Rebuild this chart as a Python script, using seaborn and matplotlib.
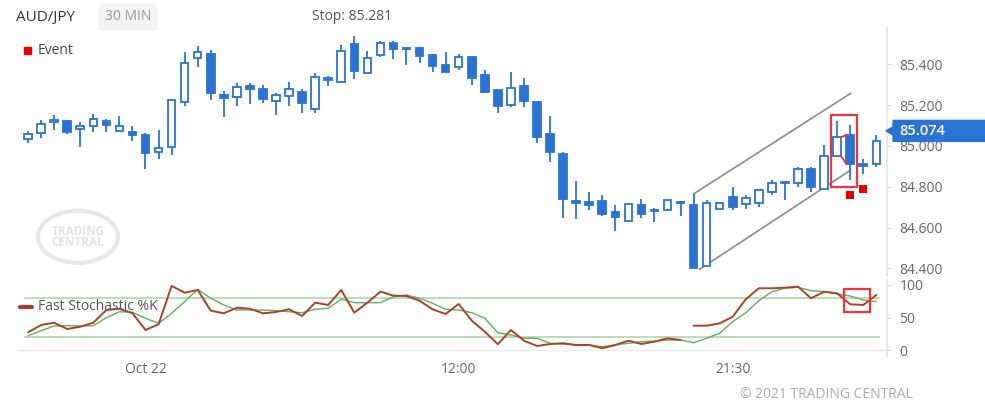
import matplotlib
matplotlib.use('Agg')
import matplotlib.pyplot as plt
import matplotlib.patches as mpatches
import matplotlib.transforms as mtransforms
import numpy as np
import pandas as pd
import seaborn as sns

sns.set_theme(style='white')
plt.rcParams['font.family'] = ['Open Sans', 'DejaVu Sans']

# AUD/JPY 30 min candles
opens = [85.033, 85.062, 85.116, 85.124, 85.085, 85.098, 85.124, 85.075, 85.067, 85.054,
         84.969, 84.997, 85.214, 85.430, 85.451, 85.250, 85.240, 85.296, 85.281, 85.222,
         85.247, 85.266, 85.181, 85.335, 85.315, 85.500, 85.356, 85.445, 85.506, 85.480,
         85.482, 85.445, 85.397, 85.386, 85.435, 85.348, 85.275, 85.201, 85.296, 85.217,
         85.057, 84.959, 84.730, 84.724, 84.729, 84.676, 84.631, 84.712, 84.688, 84.685,
         84.727, 84.709, 84.413, 84.690, 84.751, 84.714, 84.719, 84.776, 84.825, 84.820,
         84.887, 84.788, 84.952, 85.054, 84.910, 84.912]
highs = [85.071, 85.127, 85.150, 85.127, 85.116, 85.157, 85.132, 85.146, 85.098, 85.065,
         85.078, 85.225, 85.462, 85.490, 85.471, 85.270, 85.307, 85.307, 85.299, 85.258,
         85.312, 85.278, 85.359, 85.345, 85.495, 85.539, 85.466, 85.515, 85.515, 85.480,
         85.487, 85.445, 85.459, 85.450, 85.443, 85.373, 85.275, 85.361, 85.335, 85.217,
         85.149, 84.972, 84.828, 84.776, 84.760, 84.711, 84.717, 84.739, 84.698, 84.734,
         84.730, 84.765, 84.735, 84.719, 84.798, 84.760, 84.784, 84.833, 84.825, 84.899,
         84.896, 85.005, 85.123, 85.103, 84.935, 85.054]
lows = [85.016, 85.038, 85.078, 85.057, 84.997, 85.067, 85.067, 85.075, 85.026, 84.887,
        84.936, 84.956, 85.198, 85.389, 85.225, 85.141, 85.198, 85.206, 85.209, 85.152,
        85.196, 85.160, 85.160, 85.296, 85.307, 85.327, 85.356, 85.438, 85.428, 85.397,
        85.408, 85.364, 85.364, 85.373, 85.299, 85.258, 85.163, 85.190, 85.193, 85.013,
        84.920, 84.649, 84.644, 84.686, 84.657, 84.585, 84.631, 84.649, 84.627, 84.681,
        84.658, 84.403, 84.413, 84.690, 84.686, 84.690, 84.702, 84.760, 84.735, 84.800,
        84.776, 84.788, 84.952, 84.833, 84.861, 84.896]
closes = [85.060, 85.106, 85.127, 85.070, 85.098, 85.131, 85.104, 85.100, 85.055, 84.964,
          84.992, 85.225, 85.407, 85.459, 85.258, 85.234, 85.288, 85.279, 85.232, 85.250,
          85.278, 85.209, 85.337, 85.325, 85.467, 85.369, 85.430, 85.506, 85.477, 85.474,
          85.441, 85.392, 85.364, 85.438, 85.332, 85.266, 85.196, 85.286, 85.221, 85.046,
          84.972, 84.740, 84.719, 84.712, 84.667, 84.652, 84.717, 84.667, 84.680, 84.734,
          84.719, 84.403, 84.719, 84.719, 84.702, 84.744, 84.784, 84.820, 84.817, 84.887,
          84.800, 84.952, 85.043, 84.912, 84.902, 85.026]

# fast stochastic %K (red) and %D (green)
k_fast = [27.8, 38.9, 42.4, 32.8, 36.3, 42.4, 61.8, 63.8, 56.8, 31.3,
          40.0, 98.5, 88.2, 92.4, 60.8, 56.8, 65.3, 63.8, 56.8, 58.8,
          62.9, 52.7, 73.0, 69.5, 92.4, 57.7, 73.0, 89.8, 83.7, 83.2,
          76.0, 62.9, 55.7, 71.0, 45.5, 28.7, 9.6, 31.3, 15.0, 6.9,
          9.9, 11.0, 8.4, 8.4, 3.4, 8.4, 15.0, 9.9, 13.4, 18.6,
          16.0, 37.9, 37.9, 41.5, 51.6, 78.2, 95.0, 95.0, 95.9, 97.4,
          79.7, 89.8, 87.3, 70.5, 69.5, 84.7]
d_slow = [22.6, 30.2, 37.4, 37.9, 37.4, 37.9, 50.1, 59.2, 58.3, 49.2,
          41.5, 56.8, 74.5, 93.4, 79.7, 69.5, 61.8, 61.8, 61.8, 60.8,
          59.2, 57.7, 62.9, 64.4, 78.2, 73.0, 73.0, 73.0, 82.1, 84.7,
          79.7, 72.1, 62.9, 61.8, 57.7, 49.2, 27.2, 23.7, 18.6, 18.6,
          11.0, 9.9, 8.4, 8.4, 5.8, 8.4, 11.0, 13.4, 14.5, 16.0,
          16.0, 11.9, 18.6, 26.3, 44.0, 57.7, 76.0, 89.8, 95.0, 96.5,
          91.3, 89.8, 86.3, 83.2, 77.1, 74.5]
k_break = 51  # %K line restarts here

tick_pos = [9, 33, 54]
tick_labels = ['Oct 22', '12:00', '21:30']
price_ticks = [84.4, 84.6, 84.8, 85.0, 85.2, 85.4]
stoch_ticks = [0, 50, 100]
stoch_levels = [20, 80]

event_idx = [63, 64]
event_price = [84.760, 84.789]
pattern_idx = [62, 63]
stoch_box_idx = [63, 64]
channel_upper_x = [51, 63.04]
channel_upper_y = [84.765, 85.258]
channel_lower_x = [51.46, 63.04]
channel_lower_y = [84.396, 84.882]
last_price = 85.074
stop_price = 85.281

blue = '#2A73D2'
red_k = '#A8432B'
green_d = '#62AE62'
box_red = '#E8363C'

W, H = 985, 412
fig = plt.figure(figsize=(W / 100, H / 100), dpi=100)
fig.patch.set_facecolor('white')


def fx(px):
    return px / W


def fy(py):
    return 1 - py / H


ax = fig.add_axes([fx(18), fy(276), fx(887) - fx(18), fy(28) - fy(276)])
ax2 = fig.add_axes([fx(18), fy(356), fx(887) - fx(18), fy(280) - fy(356)])
xlim = (-0.77, 65.82)
ylim = (84.363, 85.578)

# candles
df = pd.DataFrame({'i': np.arange(len(opens)), 'open': opens, 'high': highs,
                   'low': lows, 'close': closes})
df['up'] = df['close'] >= df['open']
body_w = 0.58
ax.vlines(df['i'], df['low'], df['high'], color=blue, lw=1.3, zorder=2)
body_lo = np.minimum(df['open'], df['close'])
body_h = np.maximum((df['close'] - df['open']).abs(), 0.006)
ax.bar(df['i'], body_h, bottom=body_lo, width=body_w,
       color=np.where(df['up'], 'white', blue), edgecolor=blue,
       linewidth=1.3, zorder=3)

# channel
ax.plot(channel_upper_x, channel_upper_y, color='#8c8c8c', lw=1.2, zorder=1)
ax.plot(channel_lower_x, channel_lower_y, color='#8c8c8c', lw=1.2, zorder=1)

# harami pattern
a, b = pattern_idx
hw = body_w / 2
ax.plot([a + hw, b - hw], [closes[a], opens[b]], color=box_red, lw=1.3, zorder=4)
ax.plot([a + hw, b - hw], [opens[a], closes[b]], color=box_red, lw=1.3, zorder=4)
top = max(highs[a], highs[b]) + 0.03
bot = min(lows[a], lows[b]) - 0.035
ax.add_patch(mpatches.Rectangle((a - 0.5, bot), b - a + 1, top - bot, fill=False,
                                edgecolor=box_red, lw=1.6, zorder=5))

# events
sns.scatterplot(x=event_idx, y=event_price, marker='s', s=36, color='#E00000',
                linewidth=0, ax=ax, zorder=6)

# watermark
ax.add_patch(mpatches.Ellipse((0.069, 0.158), 0.092, 0.21, transform=ax.transAxes,
                              fill=False, edgecolor='#e8e8e8', lw=3, zorder=0))
ax.text(0.069, 0.158, 'TRADING\nCENTRAL', transform=ax.transAxes, ha='center',
        va='center', fontsize=8.5, fontweight='bold', color='#e3e3e3',
        linespacing=0.85, zorder=0)

ax.set_xlim(*xlim)
ax.set_ylim(*ylim)
ax.yaxis.tick_right()
ax.set_yticks(price_ticks)
ax.set_yticklabels([f'{p:.3f}' for p in price_ticks])
ax.tick_params(axis='y', right=True, left=False, length=3, width=0.8,
               color='#dddddd', labelcolor='#666666', labelsize=10, pad=6)
ax.tick_params(axis='x', bottom=False, labelbottom=False)
for s in ['top', 'left', 'bottom']:
    ax.spines[s].set_visible(False)
ax.spines['right'].set_color('#e6e6e6')
ax.set_xlabel('')
ax.set_ylabel('')

# stochastic
sdf = pd.DataFrame({'i': np.arange(len(k_fast)), 'k': k_fast, 'd': d_slow})
sdf['seg'] = (sdf['i'] >= k_break).astype(int)
ax2.hlines(stoch_levels, sdf['i'].min() - 0.3, sdf['i'].max() + 0.3,
           color='#a9d3a3', lw=1.1, zorder=1)
ax2.axhline(0, color='#ececec', lw=1, zorder=0)
sns.lineplot(data=sdf, x='i', y='d', color=green_d, lw=1.0, ax=ax2, zorder=2)
sns.lineplot(data=sdf, x='i', y='k', units='seg', estimator=None, color=red_k,
             lw=1.4, ax=ax2, zorder=3)
s0 = sdf[sdf['i'].isin(stoch_box_idx)]
vmin = min(s0['k'].min(), s0['d'].min()) - 10
vmax = max(s0['k'].max(), s0['d'].max()) + 10
ax2.add_patch(mpatches.Rectangle((stoch_box_idx[0] - 0.5, vmin),
                                 stoch_box_idx[-1] - stoch_box_idx[0] + 1,
                                 vmax - vmin, fill=False, edgecolor=box_red,
                                 lw=1.6, zorder=5))
ax2.set_xlim(*xlim)
ax2.set_ylim(-8.4, 107.6)
ax2.yaxis.tick_right()
ax2.set_yticks(stoch_ticks)
ax2.tick_params(axis='y', right=True, left=False, length=3, width=0.8,
                color='#dddddd', labelcolor='#666666', labelsize=10, pad=6)
ax2.set_xticks(tick_pos)
ax2.set_xticklabels(tick_labels)
ax2.tick_params(axis='x', length=0, labelcolor='#666666', labelsize=10, pad=4)
for s in ['top', 'left', 'bottom']:
    ax2.spines[s].set_visible(False)
ax2.spines['right'].set_color('#e6e6e6')
ax2.set_xlabel('')
ax2.set_ylabel('')

# current price tag
trans = mtransforms.blended_transform_factory(fig.transFigure, ax.transData)
ppu = (276 - 28) / (ylim[1] - ylim[0])
h = 10.5 / ppu
ah = 4 / ppu
poly = [(fx(886), last_price), (fx(893), last_price + ah), (fx(893), last_price + h),
        (1.0, last_price + h), (1.0, last_price - h), (fx(893), last_price - h),
        (fx(893), last_price - ah)]
fig.add_artist(mpatches.Polygon(poly, closed=True, transform=trans, color=blue,
                                clip_on=False))
fig.text(fx(899), last_price, f'{last_price:.3f}', transform=trans, ha='left',
         va='center', color='white', fontsize=10.5, fontweight='semibold')

# header texts
fig.text(fx(16), fy(17), 'AUD/JPY', ha='left', va='center', fontsize=11, color='#333333')
fig.text(fx(128), fy(17), '30 MIN', ha='center', va='center', fontsize=10, color='#999999',
         bbox=dict(boxstyle='round,pad=0.45,rounding_size=0.3', fc='#f4f4f4', ec='none'))
fig.text(fx(312), fy(17), f'Stop: {stop_price:.3f}', ha='left', va='center',
         fontsize=10, color='#555555')

# legends
fig.add_artist(mpatches.Rectangle((fx(23.5), fy(53.5)), 7 / W, 7 / H,
                                  transform=fig.transFigure, color='#E00000'))
fig.text(fx(38), fy(50), 'Event', ha='left', va='center', fontsize=10, color='#444444')
fig.add_artist(plt.Line2D([fx(20), fx(32)], [fy(307), fy(307)], color=red_k, lw=3,
                          transform=fig.transFigure))
fig.text(fx(38), fy(307), 'Fast Stochastic %K', ha='left', va='center', fontsize=10,
         color='#555555')

fig.text(fx(913), fy(395), '\u00a9 2021 TRADING CENTRAL', ha='right', va='center',
         fontsize=10, color='#aaaaaa')

fig.savefig('out.png', dpi=100, facecolor='white')
